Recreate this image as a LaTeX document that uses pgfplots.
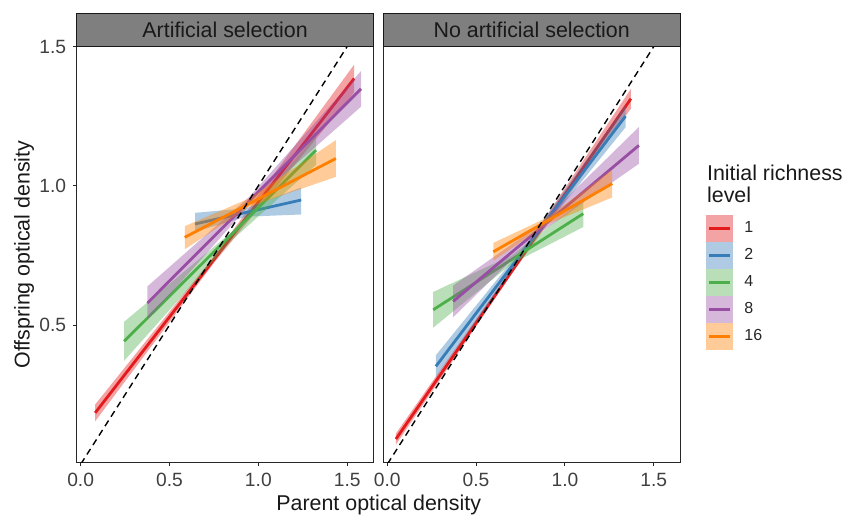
\documentclass[border=0pt]{standalone}
\usepackage{fontspec}
\setmainfont{Liberation Sans}
\usepackage{pgfplots}
\pgfplotsset{compat=1.18}
\definecolor{cA}{HTML}{E41A1C}
\definecolor{cB}{HTML}{377EB8}
\definecolor{cC}{HTML}{4DAF4A}
\definecolor{cD}{HTML}{984EA3}
\definecolor{cE}{HTML}{FF7F00}
\definecolor{stripgray}{HTML}{7F7F7F}
\pgfplotsset{
  panel/.style={
    width=148.4pt, height=208.1pt, scale only axis,
    xmin=-0.022, xmax=1.648, ymin=0.006, ymax=1.5,
    axis line style={black!85, line width=0.55pt},
    xtick={0,0.5,1,1.5}, ytick={0.5,1,1.5},
    xtick pos=bottom, ytick pos=left,
    tick align=outside, major tick length=1.8pt,
    tick style={black!85, line width=0.5pt},
    /pgf/number format/assume math mode=true,
    /pgf/number format/fixed, /pgf/number format/fixed zerofill, /pgf/number format/precision=1,
    tick label style={font=\fontsize{9.6}{11}\selectfont, text=black!75},
    clip=true,
  },
  rib/.style={draw=none, fill=#1, fill opacity=0.4, forget plot},
  ln/.style={#1, line width=1.4pt, forget plot},
  dl/.style={black, line width=0.7pt, dash pattern=on 3.3pt off 2.3pt, forget plot},
  key/.style={legend image code/.code={%
    \path[draw=none, fill=#1, fill opacity=0.4] (0pt,-6.75pt) rectangle (13.6pt,6.75pt);
    \path[draw=#1, line width=1.35pt] (1.6pt,0pt) -- (12pt,0pt);
    \path[draw=none] (0pt,0pt) -- (19.2pt,0pt);}},
}
\begin{document}
\begin{tikzpicture}
\path[use as bounding box] (0,0) rectangle (422.5pt,257.5pt);
% Left panel
\begin{axis}[panel, name=left, at={(38.35pt,26.15pt)}, anchor=south west]
\addplot[rib=cA] coordinates {(0.082,0.215)(0.75,0.747)(1.539,1.435)(1.539,1.335)(0.75,0.723)(0.082,0.155)} --cycle;
\addplot[ln=cA] coordinates {(0.082,0.185)(1.539,1.385)};
\addplot[rib=cB] coordinates {(0.644,0.903)(0.93,0.919)(1.241,0.994)(1.241,0.897)(0.93,0.889)(0.644,0.835)} --cycle;
\addplot[ln=cB] coordinates {(0.644,0.863)(1.241,0.949)};
\addplot[rib=cC] coordinates {(0.245,0.512)(0.85,0.834)(1.325,1.18)(1.325,1.076)(0.85,0.804)(0.245,0.372)} --cycle;
\addplot[ln=cC] coordinates {(0.245,0.442)(1.325,1.128)};
\addplot[rib=cD] coordinates {(0.376,0.639)(0.95,0.961)(1.578,1.412)(1.578,1.284)(0.95,0.931)(0.376,0.519)} --cycle;
\addplot[ln=cD] coordinates {(0.376,0.579)(1.578,1.348)};
\addplot[rib=cE] coordinates {(0.586,0.855)(0.95,0.955)(1.436,1.164)(1.436,1.032)(0.95,0.925)(0.586,0.772)} --cycle;
\addplot[ln=cE] coordinates {(0.586,0.815)(1.436,1.098)};
\addplot[dl] coordinates {(-0.1,-0.1)(1.8,1.8)};
\end{axis}
% Right panel
\begin{axis}[panel, name=right, at={(191.65pt,26.15pt)}, anchor=south west, ytick=\empty,
  legend style={at={(1.0874,0.5952)}, anchor=north west, draw=none, fill=none,
    inner sep=0pt, outer sep=0pt, row sep=0pt, column sep=0pt,
    nodes={inner sep=0pt, font=\fontsize{8}{9}\selectfont, text=black!85, anchor=west}},
  legend cell align=left]
\addplot[rib=cA] coordinates {(0.049,0.111)(0.7,0.703)(1.371,1.348)(1.371,1.277)(0.7,0.683)(0.049,0.071)} --cycle;
\addplot[ln=cA] coordinates {(0.049,0.091)(1.371,1.3125)};
\addplot[rib=cB] coordinates {(0.274,0.392)(0.8,0.807)(1.341,1.29)(1.341,1.21)(0.8,0.783)(0.274,0.312)} --cycle;
\addplot[ln=cB] coordinates {(0.274,0.352)(1.341,1.25)};
\addplot[rib=cC] coordinates {(0.259,0.619)(0.7,0.75)(1.103,0.948)(1.103,0.852)(0.7,0.72)(0.259,0.491)} --cycle;
\addplot[ln=cC] coordinates {(0.259,0.555)(1.103,0.90)};
\addplot[rib=cD] coordinates {(0.371,0.642)(0.85,0.857)(1.416,1.211)(1.416,1.079)(0.85,0.827)(0.371,0.528)} --cycle;
\addplot[ln=cD] coordinates {(0.371,0.585)(1.416,1.145)};
\addplot[rib=cE] coordinates {(0.597,0.795)(0.9,0.886)(1.266,1.058)(1.266,0.958)(0.9,0.862)(0.597,0.731)} --cycle;
\addplot[ln=cE] coordinates {(0.597,0.763)(1.266,1.008)};
\addplot[dl] coordinates {(-0.1,-0.1)(1.8,1.8)};
\addlegendimage{key=cA}
\addlegendentry{1}
\addlegendimage{key=cB}
\addlegendentry{2}
\addlegendimage{key=cC}
\addlegendentry{4}
\addlegendimage{key=cD}
\addlegendentry{8}
\addlegendimage{key=cE}
\addlegendentry{16}
\end{axis}
% Strips
\foreach \p/\t in {left/Artificial selection, right/No artificial selection}{
  \draw[fill=stripgray, draw=black!90, line width=0.55pt] (\p.north west) rectangle ([yshift=16.6pt]\p.north east);
  \node[font=\fontsize{10.7}{12}\selectfont, text=black!90] at ([yshift=8.3pt]\p.north) {\t};
}
% Axis titles
\node[font=\fontsize{10.7}{12}\selectfont, text=black!90] at (189.35pt,4.8pt) {Parent optical density};
\node[font=\fontsize{10.7}{12}\selectfont, text=black!90, rotate=90] at (12pt,130.2pt) {Offspring optical density};
% Legend title
\node[font=\fontsize{10.7}{12}\selectfont, text=black!90, anchor=base west, inner sep=0pt] at (353.35pt,167.5pt) {Initial richness};
\node[font=\fontsize{10.7}{12}\selectfont, text=black!90, anchor=base west, inner sep=0pt] at (353.35pt,156.2pt) {level};
\end{tikzpicture}
\end{document}
